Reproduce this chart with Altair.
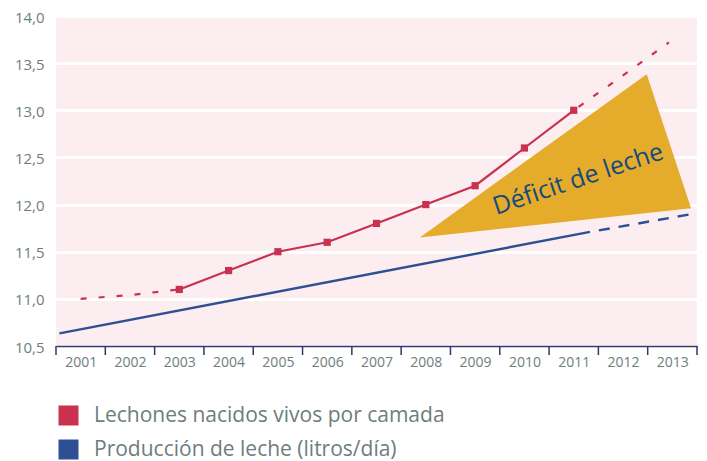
import altair as alt
import pandas as pd

# ---- data ----
years = [2001, 2002, 2003, 2004, 2005, 2006, 2007, 2008, 2009, 2010, 2011, 2012, 2013]
tick_pos = [2000.5 + i for i in range(14)]
y_ticks = [10.5, 11.0, 11.5, 12.0, 12.5, 13.0, 13.5, 14.0]

red_solid_x = [2003, 2004, 2005, 2006, 2007, 2008, 2009, 2010, 2011]
red_solid_y = [11.1, 11.3, 11.5, 11.6, 11.8, 12.0, 12.2, 12.6, 13.0]

red_dash1_x = [2001, 2002, 2003]
red_dash1_y = [11.0, 11.04, 11.1]

red_dash2_x = [2011, 2012, 2012.93]
red_dash2_y = [13.0, 13.37, 13.72]

blue_solid_x = [2000.57, 2011.33]
blue_solid_y = [10.634, 11.71]

blue_dash_x = [2011.33, 2013.40]
blue_dash_y = [11.71, 11.90]

# deficit triangle: x, upper edge, lower edge
tri_x = [2007.88, 2012.48, 2013.38]
tri_top = [11.652, 13.381, 11.962]
tri_bottom = [11.652, 11.911, 11.962]

series = ["Lechones nacidos vivos por camada", "Producción de leche (litros/día)"]
colors = ["#c9314f", "#2e4f94"]

RED, BLUE, GOLD = colors[0], colors[1], "#e4ac2a"
GREY = "#6e7d7d"
FONT = "Open Sans"

xs = alt.Scale(domain=[2000.5, 2013.5], nice=False, zero=False)
ys = alt.Scale(domain=[10.5, 14.0], nice=False, zero=False)

W, H = 641, 330

x_axis = alt.Axis(values=years, format="d", ticks=False, grid=False,
                  domainColor="#2d3a6b", domainWidth=1.5,
                  labelFont=FONT, labelFontSize=14, labelColor=GREY,
                  labelPadding=9, title=None)
y_axis = alt.Axis(values=y_ticks,
                  labelExpr="replace(format(datum.value, '.1f'), '.', ',')",
                  grid=True, gridColor="white", gridWidth=3, domain=False,
                  ticks=False, labelFont=FONT, labelFontSize=15,
                  labelColor=GREY, labelPadding=12, labelOffset=1,
                  labelFlush=False, title=None)


def X(field="x"):
    return alt.X(f"{field}:Q", scale=xs, axis=x_axis)


def Y(field="y"):
    return alt.Y(f"{field}:Q", scale=ys, axis=y_axis)


def line_layer(xv, yv, color, width, dash=None, offset=None):
    df = pd.DataFrame({"x": xv, "y": yv})
    kw = dict(color=color, strokeWidth=width, clip=False)
    if dash:
        kw["strokeDash"] = dash
    if offset is not None:
        kw["strokeDashOffset"] = offset
    return alt.Chart(df).mark_line(**kw).encode(x=X(), y=Y())


ticks_df = pd.DataFrame({"x": tick_pos})
ticks_layer = alt.Chart(ticks_df).mark_rule(color="#2d3a6b", strokeWidth=1.5).encode(
    x=X(),
    y=alt.value(H),
    y2=alt.value(H + 9),
)

tri_df = pd.DataFrame({"x": tri_x, "top": tri_top, "bottom": tri_bottom})
tri_layer = alt.Chart(tri_df).mark_area(color=GOLD, opacity=1).encode(
    x=X(),
    y=Y("top"),
    y2="bottom:Q",
)

txt_df = pd.DataFrame({"x": [2011.09], "y": [12.27], "t": ["Déficit de leche"]})
txt_layer = alt.Chart(txt_df).mark_text(
    angle=341.5, font=FONT, fontSize=25, color="#17497c",
    align="center", baseline="middle",
).encode(x=X(), y=Y(), text="t:N")

pts_df = pd.DataFrame({"x": red_solid_x, "y": red_solid_y,
                       "serie": [series[0]] * len(red_solid_x)})
pts_layer = alt.Chart(pts_df).mark_square(size=52, opacity=1, filled=True).encode(
    x=X(),
    y=Y(),
    fill=alt.Fill("serie:N", scale=alt.Scale(domain=series, range=colors),
                  legend=alt.Legend(orient="none", legendX=2, legendY=389,
                                    title=None, symbolType="square",
                                    symbolSize=400, symbolStrokeWidth=0,
                                    labelFont=FONT, labelFontSize=21,
                                    labelColor=GREY, labelOffset=15,
                                    rowPadding=12, labelLimit=700)),
)

chart = alt.layer(
    ticks_layer,
    line_layer(blue_solid_x, blue_solid_y, BLUE, 2.4),
    line_layer(blue_dash_x, blue_dash_y, BLUE, 2.4, dash=[11, 9], offset=11),
    tri_layer,
    txt_layer,
    line_layer(red_dash1_x, red_dash1_y, RED, 2.2, dash=[6, 12]),
    line_layer(red_solid_x, red_solid_y, RED, 2.2),
    line_layer(red_dash2_x, red_dash2_y, RED, 2.2, dash=[6, 12], offset=12),
    pts_layer,
).properties(
    width=W, height=H,
    autosize=alt.AutoSizeParams(type="none"),
    padding={"left": 48, "top": 8, "right": 2, "bottom": 115},
).configure_view(fill="#fbedf0", stroke=None)

chart.save("out.html", embed_options={"renderer": "svg", "actions": False})
